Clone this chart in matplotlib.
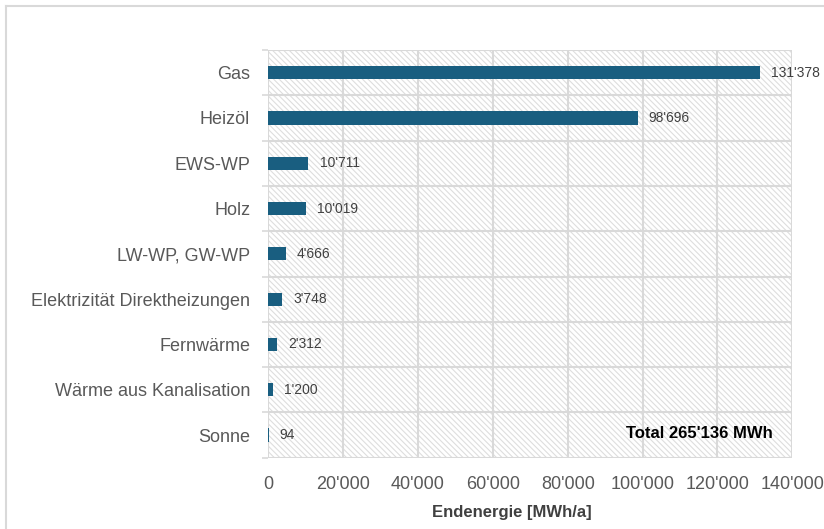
import matplotlib
matplotlib.use('Agg')
import matplotlib.pyplot as plt
import matplotlib.ticker as ticker
from matplotlib.patches import Rectangle
from matplotlib.lines import Line2D
import numpy as np

# data
categories = ['Gas', 'Heizöl', 'EWS-WP', 'Holz', 'LW-WP, GW-WP',
              'Elektrizität Direktheizungen', 'Fernwärme',
              'Wärme aus Kanalisation', 'Sonne']
values = [131378, 98696, 10711, 10019, 4666, 3748, 2312, 1200, 94]
xticks = [0, 20000, 40000, 60000, 80000, 100000, 120000, 140000]
total_text = "Total 265'136 MWh"
xlabel = 'Endenergie [MWh/a]'

def swiss(v):
	return format(int(v), ',').replace(',', "'")

plt.rcParams['font.family'] = ['Liberation Sans', 'DejaVu Sans']
plt.rcParams['hatch.linewidth'] = 0.8
plt.rcParams['hatch.color'] = '#dedede'

grid_col = '#d9d9d9'
text_col = '#595959'
bar_col = '#195e80'

fig = plt.figure(figsize=(8.24, 5.29), dpi=100)
ax = fig.add_axes([268.3/824, 1 - 457.7/529, 524/824, (457.7 - 50)/529])

n = len(categories)
ypos = np.arange(n)

# hatched background
bg = Rectangle((0, 0), 1, 1, transform=ax.transAxes, facecolor='white',
               edgecolor='#dedede', hatch='\\' * 6, linewidth=0, zorder=0)
ax.add_patch(bg)

ax.barh(ypos, values, height=0.29, color=bar_col, zorder=3)

for y, v in zip(ypos, values):
	ax.annotate(swiss(v), xy=(v, y), xytext=(8, 0), textcoords='offset points',
	            va='center', ha='left', fontsize=10, color='#404040', zorder=4)

ax.set_xlim(0, 140000)
ax.set_ylim(n - 0.5, -0.5)

ax.set_xticks(xticks)
ax.set_xticklabels([swiss(t) for t in xticks])
ax.set_yticks(ypos)
ax.set_yticklabels(categories)
ax.yaxis.set_minor_locator(ticker.FixedLocator(np.arange(-0.5, n, 1)))

ax.tick_params(axis='both', which='major', length=0, labelsize=13, labelcolor=text_col)
ax.tick_params(axis='y', which='major', pad=13)
ax.tick_params(axis='x', which='major', pad=13.5)
ax.tick_params(axis='y', which='minor', length=4.3, width=1.2, color=grid_col)

ax.grid(axis='x', which='major', color=grid_col, linewidth=1.5, zorder=1)
ax.grid(axis='y', which='minor', color=grid_col, linewidth=1.5, zorder=1)
ax.set_axisbelow(True)

for s in ax.spines.values():
	s.set_visible(False)

ax.set_xlabel(xlabel, fontsize=12, fontweight='bold', color='#404040')
ax.xaxis.set_label_coords((512 - 268.3) / 524, -(513 - 457.7) / (457.7 - 50))
ax.xaxis.label.set_va('center')

ax.text((773 - 268.3) / 524, (457.7 - 433) / (457.7 - 50), total_text, transform=ax.transAxes,
        ha='right', va='center', fontsize=12, fontweight='bold', color='black', zorder=5)

# figure frame
fig.add_artist(Line2D([6/824, 6/824], [0, 1 - 6/529], color=grid_col, linewidth=1.5))
fig.add_artist(Line2D([6/824, 1], [1 - 6/529, 1 - 6/529], color=grid_col, linewidth=1.5))

fig.savefig('out.png', dpi=100)
